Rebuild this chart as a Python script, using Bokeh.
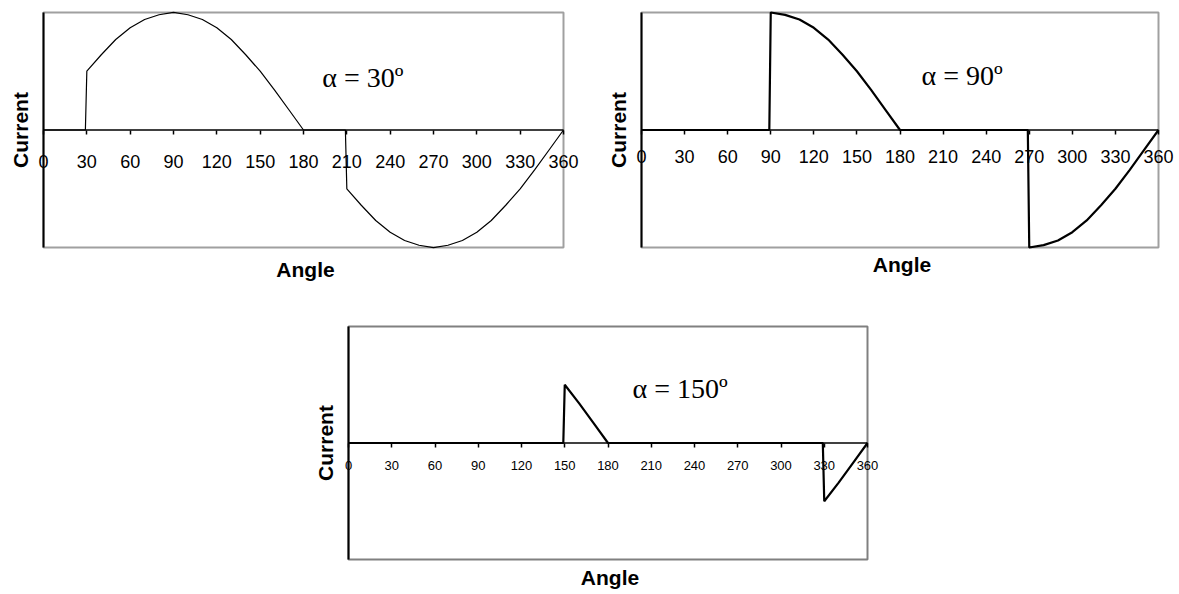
from bokeh.plotting import figure
from bokeh.layouts import row, column, Spacer
from bokeh.models import LinearAxis, FixedTicker, Label, Range1d
from bokeh.embed import file_html
from bokeh.resources import INLINE

# Firing angle waveforms: load current versus angle (degrees)
angle_30 = [0, 29, 30, 40, 50, 60, 70, 80, 90, 100, 110, 120, 130, 140, 150, 160, 170, 180,
            209, 210, 220, 230, 240, 250, 260, 270, 280, 290, 300, 310, 320, 330, 340, 350, 360]
current_30 = [0, 0, 0.5, 0.64, 0.77, 0.87, 0.94, 0.98, 1.0, 0.98, 0.94, 0.87, 0.77, 0.64, 0.5, 0.34, 0.17, 0,
              0, -0.5, -0.64, -0.77, -0.87, -0.94, -0.98, -1.0, -0.98, -0.94, -0.87, -0.77, -0.64, -0.5, -0.34, -0.17, 0]

angle_90 = [0, 89, 90, 100, 110, 120, 130, 140, 150, 160, 170, 180,
            269, 270, 280, 290, 300, 310, 320, 330, 340, 350, 360]
current_90 = [0, 0, 1.0, 0.98, 0.94, 0.87, 0.77, 0.64, 0.5, 0.34, 0.17, 0,
              0, -1.0, -0.98, -0.94, -0.87, -0.77, -0.64, -0.5, -0.34, -0.17, 0]

angle_150 = [0, 149, 150, 160, 170, 180, 329, 330, 340, 350, 360]
current_150 = [0, 0, 0.5, 0.34, 0.17, 0, 0, -0.5, -0.34, -0.17, 0]

angle_ticks = [0, 30, 60, 90, 120, 150, 180, 210, 240, 270, 300, 330, 360]
current_limits = [-1, 1]

titles = ["\u03b1 = 30\u00ba", "\u03b1 = 90\u00ba", "\u03b1 = 150\u00ba"]

# room around the plot box (px) so the end tick numbers are not cut off
PAD_L, PAD_R, PAD_T, PAD_B = 12, 16, 3, 3


def make_panel(xs, ys, title, width, height, box, line_width, tick_font, tick_standoff,
               title_pos, outline, ylabel_standoff, xlabel_standoff):
    bx0, bx1, by0, by1 = box
    a0, a1 = angle_ticks[0], angle_ticks[-1]
    c0, c1 = current_limits
    sx = (a1 - a0) / (bx1 - bx0)
    sy = (c1 - c0) / (by1 - by0)
    p = figure(width=width, height=height,
               x_range=Range1d(a0 - PAD_L * sx, a1 + PAD_R * sx),
               y_range=Range1d(c0 - PAD_B * sy, c1 + PAD_T * sy),
               output_backend="svg", toolbar_location=None,
               min_border_left=bx0 - PAD_L, min_border_right=width - bx1 - PAD_R,
               min_border_top=by0 - PAD_T, min_border_bottom=height - by1 - PAD_B)
    p.grid.visible = False
    p.outline_line_color = None

    # plot box, with the current axis as its black left side
    p.quad(left=a0, right=a1, bottom=c0, top=c1, fill_color=None,
           line_color=outline, line_width=2)
    p.segment(x0=a0, x1=a0, y0=c0, y1=c1, line_color="black", line_width=2)
    # zero-current line carrying the angle scale
    p.segment(x0=a0, x1=a1, y0=0, y1=0, line_color="black", line_width=1.5)

    xa = p.xaxis[0]
    xa.fixed_location = 0
    xa.ticker = FixedTicker(ticks=angle_ticks)
    xa.axis_line_color = None
    xa.major_tick_in = 0
    xa.major_tick_out = 4
    xa.minor_tick_in = 0
    xa.minor_tick_out = 0
    xa.major_tick_line_width = 1.5
    xa.major_tick_line_color = "black"
    xa.major_label_text_font = "Liberation Sans"
    xa.major_label_text_font_size = tick_font
    xa.major_label_text_color = "black"
    xa.major_label_standoff = tick_standoff

    ya = p.yaxis[0]
    ya.ticker = FixedTicker(ticks=[])
    ya.major_tick_out = 0
    ya.minor_tick_out = 0
    ya.axis_line_color = None
    ya.axis_label = "Current"
    ya.axis_label_text_font = "Liberation Sans"
    ya.axis_label_text_font_style = "bold"
    ya.axis_label_text_font_size = "21px"
    ya.axis_label_text_color = "black"
    ya.axis_label_standoff = ylabel_standoff

    lab = LinearAxis(ticker=FixedTicker(ticks=[]), axis_line_color=None,
                     major_tick_out=0, minor_tick_out=0,
                     axis_label="Angle", axis_label_text_font="Liberation Sans",
                     axis_label_text_font_style="bold", axis_label_text_font_size="21px",
                     axis_label_text_color="black", axis_label_standoff=xlabel_standoff)
    p.add_layout(lab, "below")

    p.line(xs, ys, line_color="black", line_width=line_width)

    tx, ty = title_pos
    p.add_layout(Label(x=tx, y=ty, text=title, text_font="Liberation Serif",
                       text_font_size="28px", text_color="black", text_baseline="alphabetic"))
    return p


p1 = make_panel(angle_30, current_30, titles[0], 600, 300, (43, 563, 10, 251), 1.2,
                "18px", 21, (193, 0.45), "#a0a0a0", 0, 7)
p2 = make_panel(angle_90, current_90, titles[1], 579, 300, (41, 558, 12, 247), 2.2,
                "18px", 16, (195, 0.46), "#a0a0a0", 0, 2)
p3 = make_panel(angle_150, current_150, titles[2], 587, 294, (48, 567, 26, 259), 2.2,
                "13px", 14, (197, 0.47), "#808080", 0, 3)

layout = column(row(p1, p2), row(Spacer(width=300, height=294), p3))

open("out.html", "w").write(file_html(layout, INLINE))
